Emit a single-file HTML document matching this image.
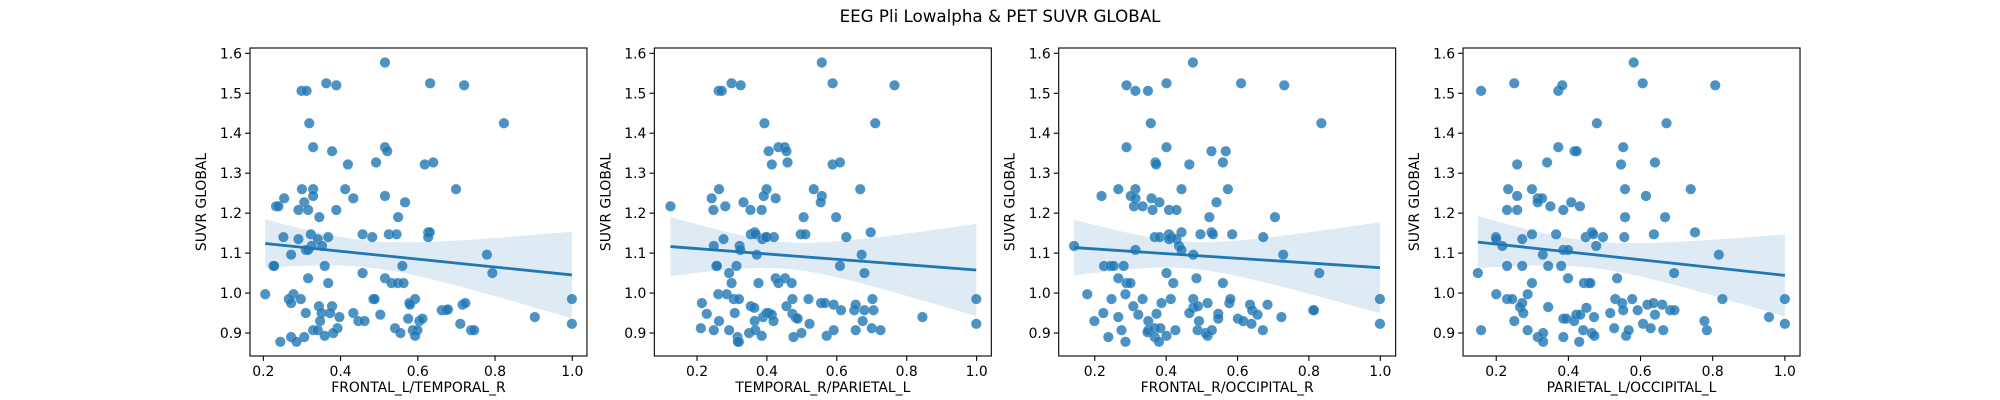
<!DOCTYPE html>
<html><head><meta charset="utf-8">
<style>
html,body{margin:0;padding:0;background:#fff;}
svg{display:block;font-family:"DejaVu Sans","Liberation Sans",sans-serif;}
</style></head>
<body>
<svg id="chart" width="2000" height="400" viewBox="0 0 2000 400" xmlns="http://www.w3.org/2000/svg">
<rect width="2000" height="400" fill="#fff"/>
<text x="1000" y="22" text-anchor="middle" font-size="16.7">EEG Pli Lowalpha &amp; PET SUVR GLOBAL</text>
</svg>
<script>
const xLabels = ["FRONTAL_L/TEMPORAL_R","TEMPORAL_R/PARIETAL_L","FRONTAL_R/OCCIPITAL_R","PARIETAL_L/OCCIPITAL_L"];
const xTicks = [0.2,0.4,0.6,0.8,1.0];
const yTicks = [0.9,1.0,1.1,1.2,1.3,1.4,1.5,1.6];
const yDomain = [0.8425,1.6133];
const xDomains = [[0.1655,1.038],[0.078,1.042],[0.099,1.043],[0.108,1.042]];

const x1 = [0.515,0.363,0.389,0.632,0.720,0.299,0.312,0.319,0.823,0.329,0.378,0.515,0.521,0.419,0.492,0.618,0.640,0.699,0.300,0.329,0.329,0.412,0.433,0.254,0.233,0.239,0.306,0.291,0.316,0.389,0.515,0.567,0.549,0.345,0.457,0.482,0.525,0.545,0.627,0.631,0.627,0.252,0.291,0.323,0.341,0.368,0.325,0.352,0.310,0.316,0.272,0.779,0.226,0.228,0.359,0.560,0.316,0.368,0.457,0.515,0.532,0.548,0.563,0.793,0.205,0.278,0.266,0.272,0.297,0.344,0.378,0.351,0.373,0.310,0.347,0.397,0.433,0.446,0.462,0.485,0.488,0.503,0.578,0.593,0.580,0.575,0.604,0.612,0.541,0.555,0.587,0.599,0.593,0.662,0.673,0.678,0.716,0.723,0.710,0.738,0.746,0.903,0.999,0.999,0.329,0.341,0.392,0.381,0.359,0.306,0.272,0.286,0.244];
const y1 = [1.577,1.525,1.520,1.525,1.520,1.506,1.506,1.425,1.425,1.365,1.355,1.365,1.355,1.322,1.327,1.322,1.327,1.260,1.260,1.260,1.243,1.260,1.237,1.237,1.217,1.217,1.227,1.208,1.208,1.208,1.243,1.227,1.190,1.190,1.147,1.140,1.147,1.147,1.152,1.152,1.140,1.140,1.135,1.147,1.135,1.140,1.118,1.118,1.108,1.108,1.096,1.096,1.068,1.068,1.068,1.068,1.037,1.025,1.050,1.037,1.025,1.025,1.025,1.050,0.997,0.997,0.985,0.975,0.985,0.967,0.967,0.950,0.950,0.950,0.930,0.940,0.950,0.930,0.930,0.985,0.985,0.946,0.975,0.985,0.971,0.936,0.930,0.936,0.912,0.900,0.907,0.907,0.893,0.957,0.957,0.959,0.971,0.975,0.923,0.907,0.907,0.940,0.985,0.923,0.907,0.907,0.912,0.900,0.893,0.890,0.890,0.878,0.878];

const x2 = [0.557,0.588,0.765,0.299,0.325,0.262,0.271,0.393,0.710,0.405,0.433,0.451,0.456,0.414,0.459,0.588,0.609,0.667,0.263,0.242,0.281,0.247,0.124,0.333,0.353,0.385,0.399,0.391,0.425,0.534,0.557,0.554,0.505,0.598,0.354,0.365,0.368,0.387,0.396,0.399,0.420,0.497,0.510,0.627,0.697,0.276,0.248,0.322,0.324,0.371,0.671,0.255,0.257,0.313,0.609,0.292,0.299,0.376,0.425,0.433,0.452,0.471,0.679,0.261,0.285,0.305,0.320,0.214,0.228,0.263,0.211,0.248,0.292,0.308,0.316,0.320,0.317,0.349,0.354,0.364,0.365,0.367,0.385,0.389,0.399,0.405,0.414,0.419,0.456,0.473,0.473,0.483,0.488,0.476,0.499,0.519,0.522,0.555,0.566,0.571,0.591,0.591,0.612,0.650,0.654,0.679,0.702,0.705,0.654,0.674,0.700,0.725,0.845,0.999,0.999];
const y2 = [1.577,1.525,1.520,1.525,1.520,1.506,1.506,1.425,1.425,1.355,1.365,1.365,1.355,1.322,1.327,1.322,1.327,1.260,1.260,1.237,1.217,1.208,1.217,1.227,1.208,1.208,1.260,1.243,1.237,1.260,1.243,1.227,1.190,1.190,1.147,1.152,1.147,1.135,1.140,1.140,1.140,1.147,1.147,1.140,1.152,1.135,1.118,1.118,1.108,1.096,1.096,1.068,1.068,1.068,1.068,1.050,1.025,1.025,1.037,1.025,1.037,1.025,1.050,0.997,0.997,0.985,0.985,0.975,0.948,0.930,0.912,0.907,0.907,0.950,0.890,0.878,0.878,0.900,0.967,0.963,0.930,0.907,0.893,0.940,0.950,0.950,0.946,0.930,0.967,0.985,0.948,0.938,0.936,0.890,0.900,0.985,0.923,0.975,0.975,0.893,0.971,0.907,0.957,0.957,0.971,0.957,0.985,0.957,0.907,0.930,0.912,0.907,0.940,0.985,0.923];

const x3 = [0.475,0.401,0.610,0.731,0.289,0.314,0.349,0.357,0.835,0.289,0.401,0.527,0.567,0.370,0.372,0.465,0.559,0.219,0.266,0.314,0.301,0.314,0.310,0.334,0.359,0.381,0.362,0.408,0.429,0.443,0.573,0.541,0.521,0.705,0.368,0.382,0.408,0.414,0.408,0.429,0.443,0.496,0.527,0.531,0.585,0.672,0.142,0.314,0.436,0.443,0.476,0.728,0.226,0.244,0.253,0.281,0.266,0.289,0.300,0.401,0.420,0.485,0.559,0.829,0.179,0.286,0.247,0.334,0.308,0.224,0.199,0.266,0.322,0.275,0.238,0.286,0.373,0.350,0.350,0.348,0.368,0.384,0.368,0.380,0.401,0.426,0.387,0.413,0.476,0.476,0.489,0.465,0.492,0.488,0.516,0.510,0.516,0.528,0.546,0.546,0.577,0.580,0.601,0.616,0.639,0.635,0.641,0.656,0.684,0.671,0.723,0.812,0.814,0.999,0.999];
const y3 = [1.577,1.525,1.525,1.520,1.520,1.506,1.506,1.425,1.425,1.365,1.365,1.355,1.355,1.327,1.322,1.322,1.327,1.243,1.260,1.260,1.243,1.237,1.217,1.217,1.237,1.227,1.208,1.208,1.208,1.260,1.260,1.227,1.190,1.190,1.140,1.140,1.147,1.140,1.135,1.135,1.152,1.147,1.152,1.147,1.147,1.140,1.118,1.108,1.118,1.108,1.096,1.096,1.068,1.068,1.068,1.068,1.037,1.025,1.025,1.050,1.025,1.037,1.025,1.050,0.997,0.997,0.985,0.985,0.967,0.950,0.930,0.940,0.946,0.907,0.890,0.878,0.948,0.930,0.907,0.902,0.912,0.912,0.890,0.878,0.893,0.907,0.975,0.985,0.985,0.963,0.967,0.950,0.930,0.907,0.975,0.900,0.893,0.907,0.948,0.936,0.975,0.985,0.936,0.930,0.923,0.971,0.957,0.946,0.971,0.907,0.940,0.957,0.957,0.985,0.923];

const x4 = [0.581,0.606,0.807,0.250,0.158,0.372,0.383,0.479,0.672,0.372,0.417,0.423,0.552,0.258,0.341,0.546,0.640,0.233,0.258,0.299,0.315,0.327,0.315,0.350,0.230,0.258,0.386,0.408,0.432,0.557,0.615,0.739,0.557,0.668,0.199,0.200,0.217,0.272,0.299,0.366,0.329,0.386,0.399,0.448,0.465,0.469,0.496,0.477,0.555,0.637,0.751,0.817,0.149,0.230,0.272,0.344,0.380,0.399,0.299,0.443,0.456,0.461,0.535,0.693,0.200,0.230,0.244,0.287,0.272,0.266,0.275,0.344,0.250,0.287,0.158,0.315,0.330,0.330,0.386,0.394,0.386,0.416,0.422,0.433,0.430,0.441,0.450,0.465,0.472,0.471,0.516,0.530,0.527,0.549,0.552,0.560,0.567,0.577,0.592,0.607,0.619,0.636,0.628,0.640,0.660,0.663,0.682,0.694,0.777,0.784,0.827,0.956,1.000,1.000];
const y4 = [1.577,1.525,1.520,1.525,1.506,1.506,1.520,1.425,1.425,1.365,1.355,1.355,1.365,1.322,1.327,1.322,1.327,1.260,1.243,1.260,1.237,1.237,1.227,1.217,1.208,1.208,1.208,1.227,1.217,1.260,1.243,1.260,1.190,1.190,1.140,1.135,1.118,1.135,1.147,1.147,1.096,1.108,1.108,1.140,1.152,1.147,1.140,1.118,1.140,1.147,1.152,1.096,1.050,1.068,1.068,1.068,1.068,1.037,1.025,1.025,1.025,1.025,1.037,1.050,0.997,0.985,0.985,0.997,0.975,0.965,0.950,0.965,0.930,0.907,0.907,0.890,0.900,0.878,0.936,0.936,0.890,0.930,0.946,0.946,0.878,0.907,0.963,0.900,0.893,0.940,0.950,0.985,0.912,0.975,0.957,0.893,0.907,0.985,0.957,0.923,0.971,0.975,0.912,0.946,0.971,0.907,0.957,0.957,0.930,0.907,0.985,0.940,0.985,0.923];

const xsAll = [x1,x2,x3,x4];
const ysAll = [y1,y2,y3,y4];

const NS = "http://www.w3.org/2000/svg";
const svg = document.getElementById('chart');
const PANEL_W = 336.96, GAP = 67.39, LEFT = 250, TOP = 48, BOTTOM = 356;
const BLUE = "#1f77b4";

function mk(tag, attrs, parent){
  const e = document.createElementNS(NS, tag);
  for (const k in attrs) e.setAttribute(k, attrs[k]);
  (parent||svg).appendChild(e);
  return e;
}
function yScale(v){ return BOTTOM - (v - yDomain[0]) / (yDomain[1] - yDomain[0]) * (BOTTOM - TOP); }

for (let p = 0; p < 4; p++) {
  const L = LEFT + p * (PANEL_W + GAP), R = L + PANEL_W;
  const dom = xDomains[p];
  const xScale = v => L + (v - dom[0]) / (dom[1] - dom[0]) * PANEL_W;
  const xs = xsAll[p], ys = ysAll[p];
  const g = mk('g', {});
  
  

  const n = xs.length;
  let mx = 0, my = 0;
  for (let i = 0; i < n; i++) { mx += xs[i]; my += ys[i]; }
  mx /= n; my /= n;
  let sxx = 0, sxy = 0;
  for (let i = 0; i < n; i++) { sxx += (xs[i]-mx)**2; sxy += (xs[i]-mx)*(ys[i]-my); }
  const b = sxy / sxx, a = my - b * mx;
  let sse = 0;
  for (let i = 0; i < n; i++) sse += (ys[i] - a - b*xs[i])**2;
  const s = Math.sqrt(sse / (n - 2));
  const xmin = Math.min(...xs), xmax = Math.max(...xs);
  const up = [], lo = [];
  for (let k = 0; k <= 100; k++) {
    const xv = xmin + (xmax - xmin) * k / 100;
    const yv = a + b * xv;
    const se = 1.98 * s * Math.sqrt(1/n + (xv-mx)**2 / sxx);
    up.push(xScale(xv).toFixed(2) + ',' + yScale(yv + se).toFixed(2));
    lo.push(xScale(xv).toFixed(2) + ',' + yScale(yv - se).toFixed(2));
  }
  const band = mk('polygon', {points: up.concat(lo.reverse()).join(' '), fill: BLUE, 'fill-opacity': 0.15, stroke: 'none'}, g);
  
  

  for (let i = 0; i < n; i++) {
    const c = mk('circle', {cx: xScale(xs[i]).toFixed(2), cy: yScale(ys[i]).toFixed(2), r: 5.2, fill: BLUE, 'fill-opacity': 0.8, stroke: '#fff', 'stroke-width': 0.3, 'stroke-opacity': 0.6}, g);
    
    
  }
  const line = mk('line', {x1: xScale(xmin), y1: yScale(a + b*xmin), x2: xScale(xmax), y2: yScale(a + b*xmax), stroke: BLUE, 'stroke-width': 2.8}, g);
  
  

  const frame = mk('rect', {x: L, y: TOP, width: PANEL_W, height: BOTTOM - TOP, fill: 'none', stroke: '#000', 'stroke-width': 1.1}, g);
  
  

  xTicks.forEach(t => {
    const x = xScale(t);
    const tk = mk('line', {x1: x, y1: BOTTOM, x2: x, y2: BOTTOM + 4.9, stroke: '#000', 'stroke-width': 1.1}, g);
    
    
    const tl = mk('text', {x: x, y: BOTTOM + 20, 'text-anchor': 'middle', 'font-size': 13.9, fill: '#000'}, g);
    tl.textContent = t.toFixed(1);
    
    
  });
  yTicks.forEach(t => {
    const y = yScale(t);
    const tk = mk('line', {x1: L - 4.9, y1: y, x2: L, y2: y, stroke: '#000', 'stroke-width': 1.1}, g);
    
    
    const tl = mk('text', {x: L - 8, y: y + 5, 'text-anchor': 'end', 'font-size': 13.9, fill: '#000'}, g);
    tl.textContent = t.toFixed(1);
    
    
  });
  const xl = mk('text', {x: (L + R) / 2, y: 392, 'text-anchor': 'middle', 'font-size': 13.9, fill: '#000'}, g);
  xl.textContent = xLabels[p];
  
  
  const yl = mk('text', {x: 0, y: 0, 'text-anchor': 'middle', 'font-size': 13.9, fill: '#000', transform: 'translate(' + (L - 44) + ',' + ((TOP + BOTTOM) / 2) + ') rotate(-90)'}, g);
  yl.textContent = 'SUVR GLOBAL';
  
  
}
</script>
</body></html>
